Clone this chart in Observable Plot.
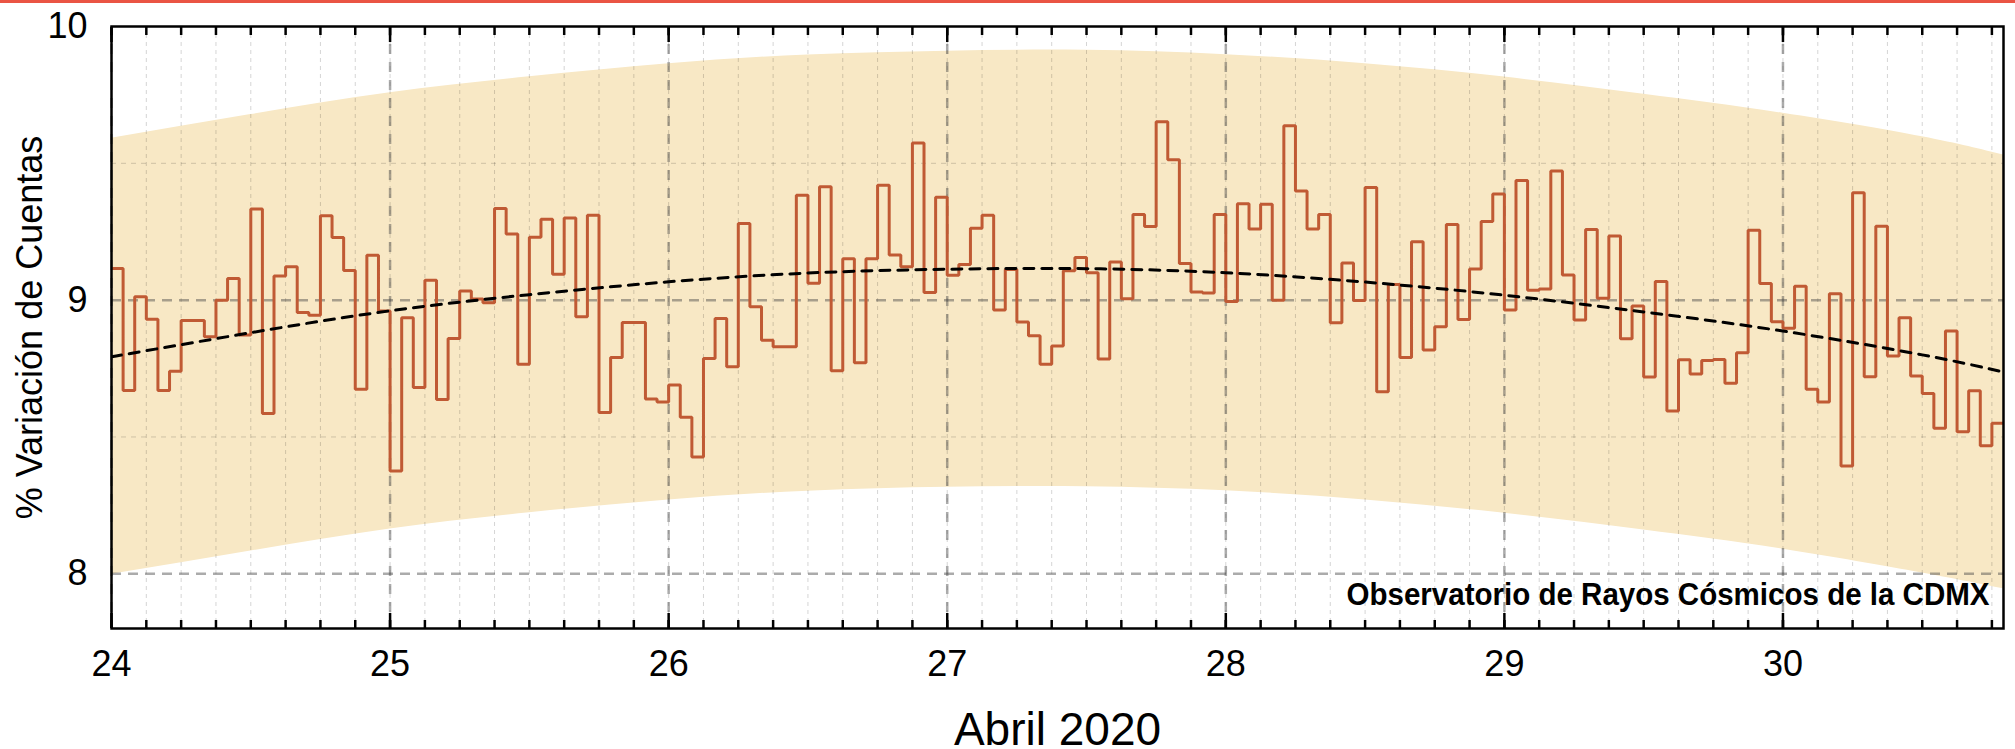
<!DOCTYPE html>
<html>
<head>
<meta charset="utf-8">
<script src="https://cdn.jsdelivr.net/npm/d3@7"></script>
<script src="https://cdn.jsdelivr.net/npm/@observablehq/plot@0.6"></script>
<style>
  html, body { margin: 0; padding: 0; background: #fff; }
  #topbar { position: absolute; left: 0; top: 0; width: 2015px; height: 3px; background: #ea5444; }
  #chart { position: absolute; left: 0; top: 0; }
</style>
</head>
<body>
<div id="chart"></div>
<div id="topbar"></div>
<script>
// ---- Data ----
const startDay = 24;            // first hourly sample: 24 Apr 00:00
const endDay = 30 + 19 / 24;    // right edge of the plot: 30 Apr 19:00
const dayTicks = [24, 25, 26, 27, 28, 29, 30];
const yTicks = [8, 9, 10];

// Hourly % variation of counts (step line)
const hourlyValues = [
  9.116, 8.67, 9.012, 8.93, 8.67, 8.74, 8.926, 8.926, 8.866, 9.0, 9.079, 8.873, 9.333, 8.586,
  9.088, 9.122, 8.955, 8.945, 9.308, 9.229, 9.108, 8.674, 9.164, 8.96, 8.376, 8.936, 8.681, 9.073,
  8.637, 8.86, 9.033, 9.004, 8.99, 9.335, 9.242, 8.766, 9.23, 9.296, 9.095, 9.30, 8.939, 9.31,
  8.589, 8.79, 8.918, 8.918, 8.639, 8.628, 8.69, 8.572, 8.427, 8.787, 8.933, 8.757, 9.28,
  8.976, 8.853, 8.83, 8.83, 9.383, 9.062, 9.414, 8.742, 9.151, 8.771, 9.151, 9.42, 9.165, 9.122,
  9.574, 9.028, 9.376, 9.091, 9.13, 9.263, 9.31, 8.964, 9.112, 8.92, 8.87, 8.766, 8.832,
  9.107, 9.156, 9.1, 8.785, 9.139, 9.005, 9.313, 9.269, 9.652, 9.513, 9.134, 9.03, 9.026, 9.313,
  8.995, 9.352, 9.26, 9.35, 9.0, 9.637, 9.399, 9.26, 9.313, 8.917, 9.136, 8.999, 9.412,
  8.665, 9.057, 8.79, 9.213, 8.818, 8.903, 9.276, 8.929, 9.114, 9.287, 9.388, 8.964, 9.437, 9.036,
  9.041, 9.472, 9.092, 8.927, 9.258, 9.007, 9.234, 8.859, 8.979, 8.719, 9.068, 8.595, 8.782,
  8.73, 8.779, 8.783, 8.696, 8.808, 9.255, 9.061, 8.921, 8.897, 9.051, 8.674, 8.628, 9.023, 8.394,
  9.392, 8.72, 9.27, 8.796, 8.936, 8.723, 8.659, 8.532, 8.887, 8.519, 8.669, 8.468, 8.55
];

// Smooth trend (dashed) and shaded band, sampled every half day
const trendDays  = [24, 24.5, 25, 25.5, 26, 26.5, 27, 27.5, 28, 28.5, 29, 29.5, 30, 30.5, 30 + 19 / 24];
const trendValue = [8.793, 8.881, 8.961, 9.02, 9.067, 9.099, 9.113, 9.115, 9.10, 9.066, 9.018, 8.957, 8.887, 8.80, 8.737];
const bandUpper  = [9.592, 9.678, 9.758, 9.816, 9.864, 9.896, 9.91, 9.913, 9.897, 9.864, 9.815, 9.752, 9.683, 9.597, 9.53];
const bandLower  = [7.998, 8.083, 8.164, 8.223, 8.27, 8.302, 8.316, 8.318, 8.303, 8.27, 8.221, 8.16, 8.09, 8.003, 7.945];

// ---- Build tables ----
const steps = hourlyValues.map((v, i) => ({ x: startDay + i / 24, y: v }));
steps.push({ x: endDay, y: hourlyValues[hourlyValues.length - 1] });
const trend = trendDays.map((d, i) => ({ x: d, y: trendValue[i], lo: bandLower[i], hi: bandUpper[i] }));
const minorTicks = d3.range(startDay, endDay + 1e-9, 3 / 24);

const FONT = "'Liberation Sans', Arial, Helvetica, sans-serif";
const CREDIT = "Observatorio de Rayos Cósmicos de la CDMX";

const chart = Plot.plot({
  width: 2015,
  height: 749,
  marginTop: 26,
  marginBottom: 121,
  marginLeft: 111,
  marginRight: 12,
  style: { fontFamily: FONT, background: "white", color: "black" },
  x: { domain: [startDay, endDay] },
  y: { domain: [7.8, 10] },
  marks: [
    Plot.areaY(trend, { x: "x", y1: "lo", y2: "hi", fill: "#f8e8c5", curve: "natural", clip: true }),
    // grid
    Plot.gridX(minorTicks, { stroke: "#000", strokeOpacity: 0.17, strokeWidth: 1, strokeDasharray: "4,4" }),
    Plot.gridY([8.5, 9.5], { stroke: "#000", strokeOpacity: 0.17, strokeWidth: 1, strokeDasharray: "5,5" }),
    Plot.gridX(dayTicks, { stroke: "#444", strokeOpacity: 0.45, strokeWidth: 2.5, strokeDasharray: "10,8" }),
    Plot.gridY([8, 9], { stroke: "#444", strokeOpacity: 0.45, strokeWidth: 2.5, strokeDasharray: "10,7" }),
    // data
    Plot.line(steps, { x: "x", y: "y", curve: "step-after", stroke: "#c05a34", strokeWidth: 3, strokeLinejoin: "miter", clip: true }),
    Plot.line(trend, { x: "x", y: "y", curve: "natural", stroke: "black", strokeWidth: 3, strokeDasharray: "10,8", clip: true }),
    // credit
    Plot.text([CREDIT], {
      frameAnchor: "bottom-right", dx: -14, dy: -34, textAnchor: "end", lineAnchor: "middle",
      fontSize: 32, fontWeight: "bold", fill: "black"
    }),
    // frame and axes
    Plot.frame({ stroke: "black", strokeWidth: 2.5 }),
    Plot.axisX(minorTicks, { anchor: "bottom", tickSize: -8, strokeWidth: 2.5, tickFormat: () => "", label: null }),
    Plot.axisX(minorTicks, { anchor: "top", tickSize: -8, strokeWidth: 2.5, tickFormat: () => "", label: null }),
    Plot.axisX(dayTicks, { anchor: "bottom", tickSize: -15, strokeWidth: 2.5, tickFormat: () => "", label: null }),
    Plot.axisX(dayTicks, { anchor: "top", tickSize: -15, strokeWidth: 2.5, tickFormat: () => "", label: null }),
    Plot.axisX(dayTicks, { anchor: "bottom", tickSize: 0, tickPadding: 22, fontSize: 36, tickFormat: d => String(d), label: null }),
    Plot.axisY(yTicks, { anchor: "left", tickSize: 0, tickPadding: 24, fontSize: 36, tickFormat: d => String(d), label: null }),
    Plot.text(["Abril 2020"], { frameAnchor: "bottom", dy: 102, textAnchor: "middle", lineAnchor: "middle", fontSize: 46, fill: "black" }),
    Plot.text(["% Variación de Cuentas"], { frameAnchor: "left", dx: -81, rotate: -90, textAnchor: "middle", lineAnchor: "middle", fontSize: 36, fill: "black" })
  ]
});

document.getElementById("chart").appendChild(chart);

// fit the credit line to its measured width
d3.select(chart).selectAll("text").filter(function () {
  return this.textContent === CREDIT;
}).attr("textLength", 643).attr("lengthAdjust", "spacingAndGlyphs");
</script>
</body>
</html>
